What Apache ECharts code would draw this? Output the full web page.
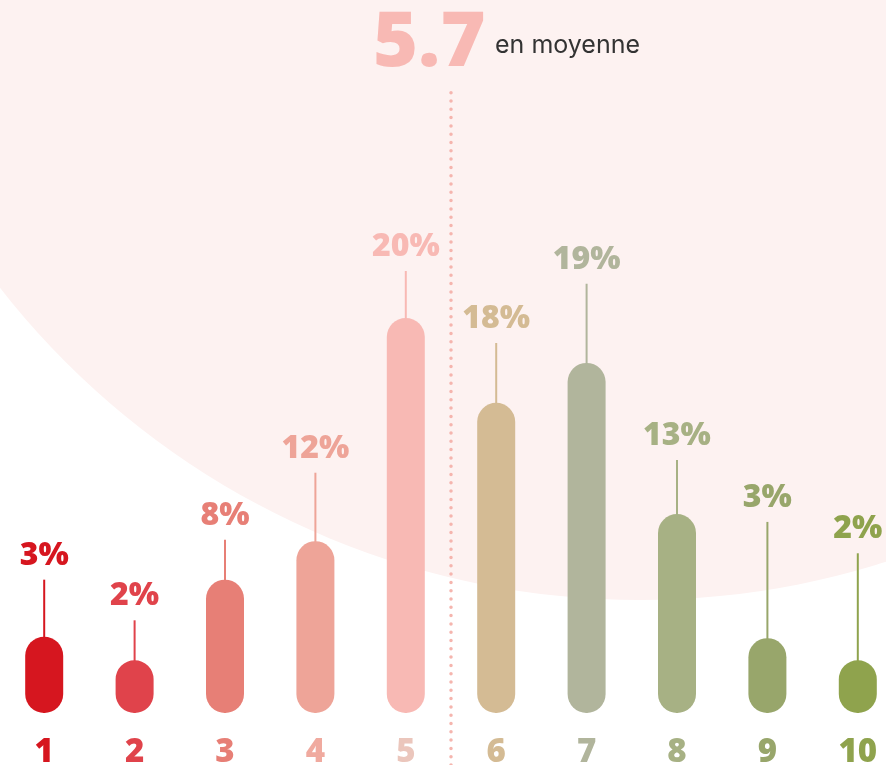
<!DOCTYPE html>
<html>
<head>
<meta charset="utf-8">
<script src="https://cdn.jsdelivr.net/npm/echarts@6/dist/echarts.min.js"></script>
<style>
  html, body { margin: 0; padding: 0; background: #fff; }
  #chart { width: 886px; height: 765px; }
</style>
</head>
<body>
<div id="chart"></div>
<script>
// notes de 1 a 10
const notes = ['1', '2', '3', '4', '5', '6', '7', '8', '9', '10'];
const pourcentages = [3, 2, 8, 12, 20, 18, 19, 13, 3, 2];
// hauteur visuelle des barres et des tiges (echelle 0-100)
const hauteurBarres = [10.7, 7.4, 18.7, 24.1, 55.4, 43.5, 49.1, 27.9, 10.5, 7.4];
const hauteurTiges = [18.7, 13.0, 24.3, 33.7, 62.0, 51.9, 60.2, 35.5, 26.8, 22.4];
const couleurs = ['#d6161f', '#e0434b', '#e77f76', '#eea498', '#f8b9b4',
                  '#d4bb94', '#b1b59c', '#a7b184', '#98a66b', '#8fa34d'];
const couleursNotes = ['#d6161f', '#e0434b', '#e77f76', '#f0aa9f', '#ebc6bc',
                       '#d4bb94', '#b1b59c', '#a7b184', '#98a66b', '#8fa34d'];
const moyenne = 5.7;
const separation = 5.5; // entre la note 5 et la note 6

const police = '"Open Sans", Inter, sans-serif';
const policeTexte = 'Inter, "Open Sans", sans-serif';
const chart = echarts.init(document.getElementById('chart'));

const option = {
  animation: false,
  graphic: [
    {
      type: 'circle', z: -10, silent: true,
      shape: { cx: 640, cy: -212, r: 812 },
      style: { fill: '#fdf2f1' }
    },
    {
      type: 'text', left: 373, top: 6,
      style: { text: String(moyenne), fill: '#f8b9b4', font: '800 77px ' + police }
    },
    {
      type: 'text', left: 495, top: 33,
      style: { text: 'en moyenne', fill: '#333333', font: '400 25px ' + policeTexte }
    }
  ],
  grid: [
    { left: -1, width: 904, top: 0, bottom: 52, outerBoundsMode: 'none' },
    { left: -1, width: 904, top: 88, bottom: 0, outerBoundsMode: 'none' }
  ],
  xAxis: [
    {
      type: 'category', data: notes, gridIndex: 0,
      axisLine: { show: false }, axisTick: { show: false },
      axisLabel: {
        margin: 23,
        fontFamily: police, fontWeight: 800, fontSize: 33,
        color: (v, i) => couleursNotes[i]
      }
    },
    { type: 'category', data: notes, gridIndex: 0, show: false },
    { type: 'value', gridIndex: 1, min: 0.5, max: 10.5, show: false }
  ],
  yAxis: [
    { type: 'value', min: 0, max: 100, show: false, gridIndex: 0 },
    { type: 'value', min: 0, max: 1, show: false, gridIndex: 1 }
  ],
  series: [
    {
      name: 'tiges', type: 'bar', xAxisIndex: 1, yAxisIndex: 0,
      barWidth: 2, z: 1,
      data: hauteurTiges.map((v, i) => ({
        value: v,
        itemStyle: { color: couleurs[i] },
        label: { color: couleurs[i] }
      })),
      label: {
        show: true, position: 'top', distance: 8,
        fontFamily: police, fontWeight: 800, fontSize: 32,
        formatter: p => pourcentages[p.dataIndex] + '%'
      }
    },
    {
      name: 'barres', type: 'bar', xAxisIndex: 0, yAxisIndex: 0,
      barWidth: 38, z: 3,
      data: hauteurBarres.map((v, i) => ({
        value: v,
        itemStyle: { color: couleurs[i], borderRadius: 19 }
      }))
    },
    {
      name: 'separation', type: 'line', xAxisIndex: 2, yAxisIndex: 1,
      symbol: 'none', z: 0,
      data: [[separation, 0], [separation, 1]],
      lineStyle: { color: '#f5b5ae', width: 3.5, type: [0, 8.3], cap: 'round' }
    }
  ]
};
chart.setOption(option);
</script>
</body>
</html>
